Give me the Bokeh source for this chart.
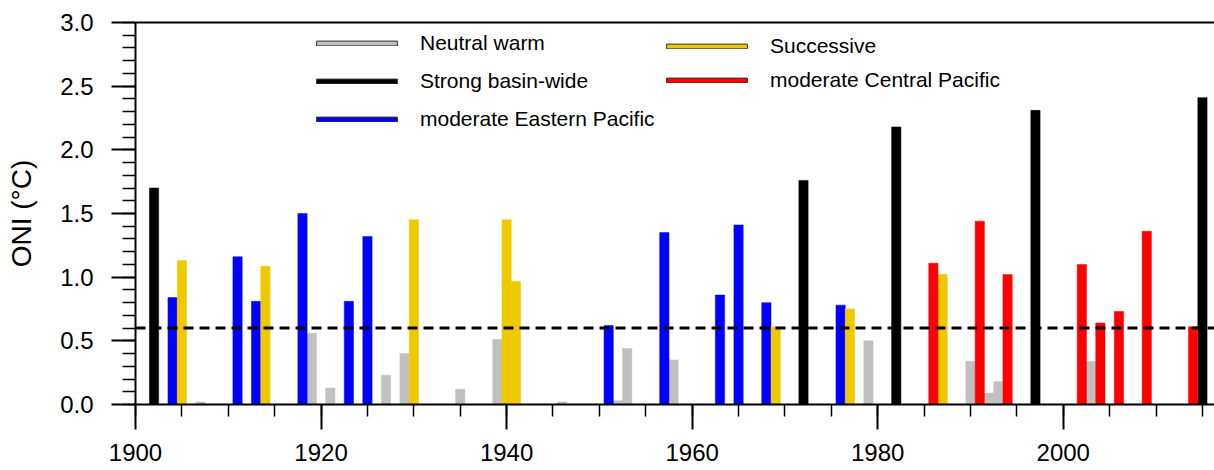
from bokeh.plotting import figure
from bokeh.models import (Range1d, SingleIntervalTicker, LinearAxis, Span, Legend,
                          LegendItem, NumeralTickFormatter, ColumnDataSource)
from bokeh.embed import file_html
from bokeh.resources import INLINE

# ---- data ----
neutral_years = [1907, 1919, 1921, 1927, 1929, 1935, 1939, 1946, 1952, 1953, 1958, 1979, 1990, 1992, 1993, 2003]
neutral_vals = [0.02, 0.56, 0.13, 0.23, 0.40, 0.12, 0.51, 0.02, 0.03, 0.44, 0.35, 0.50, 0.34, 0.09, 0.18, 0.34]

strong_years = [1902, 1972, 1982, 1997, 2015]
strong_vals = [1.70, 1.76, 2.18, 2.31, 2.41]

ep_years = [1904, 1911, 1913, 1918, 1923, 1925, 1951, 1957, 1963, 1965, 1968, 1976]
ep_vals = [0.84, 1.16, 0.81, 1.50, 0.81, 1.32, 0.62, 1.35, 0.86, 1.41, 0.80, 0.78]

succ_years = [1905, 1914, 1930, 1940, 1941, 1969, 1977, 1987]
succ_vals = [1.13, 1.085, 1.45, 1.45, 0.965, 0.61, 0.75, 1.02]

cp_years = [1986, 1991, 1994, 2002, 2004, 2006, 2009, 2014]
cp_vals = [1.11, 1.44, 1.02, 1.10, 0.64, 0.73, 1.36, 0.61]

threshold = 0.6

labels = ["Neutral warm", "Strong basin-wide", "moderate Eastern Pacific",
          "Successive", "moderate Central Pacific"]
colors = ["#c0c0c0", "#000000", "#0000ff", "#eec900", "#ff0000"]

FONT = "Liberation Sans"

p = figure(width=1214, height=470, output_backend="svg", toolbar_location=None,
           x_range=Range1d(1900, 2016.3), y_range=Range1d(0, 3),
           min_border_left=135, min_border_right=0, min_border_top=22, min_border_bottom=66)
p.outline_line_color = None
p.grid.visible = False
p.background_fill_color = "white"
# a range in which the legend-key proxies fall outside the visible frame
p.extra_x_ranges = {"key": Range1d(0, 1)}

series = [(neutral_years, neutral_vals), (strong_years, strong_vals), (ep_years, ep_vals),
          (succ_years, succ_vals), (cp_years, cp_vals)]
sources = []
for (xs, ys), c in zip(series, colors):
    src = ColumnDataSource(dict(x=xs, top=ys))
    sources.append(src)
    p.vbar(x="x", top="top", bottom=0, width=1.0, source=src,
           fill_color=c, line_color=c, line_width=0.5)

p.add_layout(Span(location=threshold, dimension="width", line_color="black",
                  line_width=3, line_dash="10 6"))

# legend proxies (same data, mapped off-frame) with a dark outline like the reference key
proxies = []
for src, c in zip(sources, colors):
    r = p.vbar(x="x", top="top", bottom=0, width=1.0, source=src, x_range_name="key",
               fill_color=c, line_color="#333333", line_width=1)
    proxies.append(r)

def make_legend(items, loc, spacing):
    return Legend(items=items, location=loc, orientation="vertical",
                  glyph_width=101, glyph_height=6, label_height=24, spacing=spacing,
                  label_standoff=13, padding=0, margin=0,
                  border_line_color=None, background_fill_alpha=0,
                  label_text_font=FONT, label_text_font_size="21px", label_text_color="black")

lg1 = make_legend([LegendItem(label=labels[i], renderers=[proxies[i]]) for i in range(3)], (171, 273), 14)
lg2 = make_legend([LegendItem(label=labels[i], renderers=[proxies[i]]) for i in range(3, 5)], (521, 312), 10)
p.add_layout(lg1)
p.add_layout(lg2)

# axes
xa = p.xaxis[0]
xa.ticker = SingleIntervalTicker(interval=20, num_minor_ticks=4)
ya = p.yaxis[0]
ya.ticker = SingleIntervalTicker(interval=0.5, num_minor_ticks=5)
ya.formatter = NumeralTickFormatter(format="0.0")
ya.axis_label = "ONI (\u00b0C)"

for ax in (xa, ya):
    ax.axis_line_width = 2
    ax.axis_line_color = "black"
    ax.major_tick_line_width = 2
    ax.minor_tick_line_width = 1.5
    ax.major_tick_in = 0
    ax.minor_tick_in = 0
    ax.major_label_text_font = FONT
    ax.major_label_text_font_size = "24px"
    ax.major_label_text_color = "black"
xa.major_tick_out = 25
xa.minor_tick_out = 12
xa.major_label_standoff = 14
ya.major_tick_out = 24
ya.minor_tick_out = 13
ya.major_label_standoff = 18
ya.axis_label_text_font = FONT
ya.axis_label_text_font_size = "28px"
ya.axis_label_text_font_style = "normal"
ya.axis_label_text_color = "black"
ya.axis_label_standoff = 20

top = LinearAxis(ticker=[], major_label_text_font_size="0px", axis_line_width=2,
                 axis_line_color="black", major_tick_line_color=None, minor_tick_line_color=None)
p.add_layout(top, "above")

open("out.html", "w").write(file_html(p, INLINE))
